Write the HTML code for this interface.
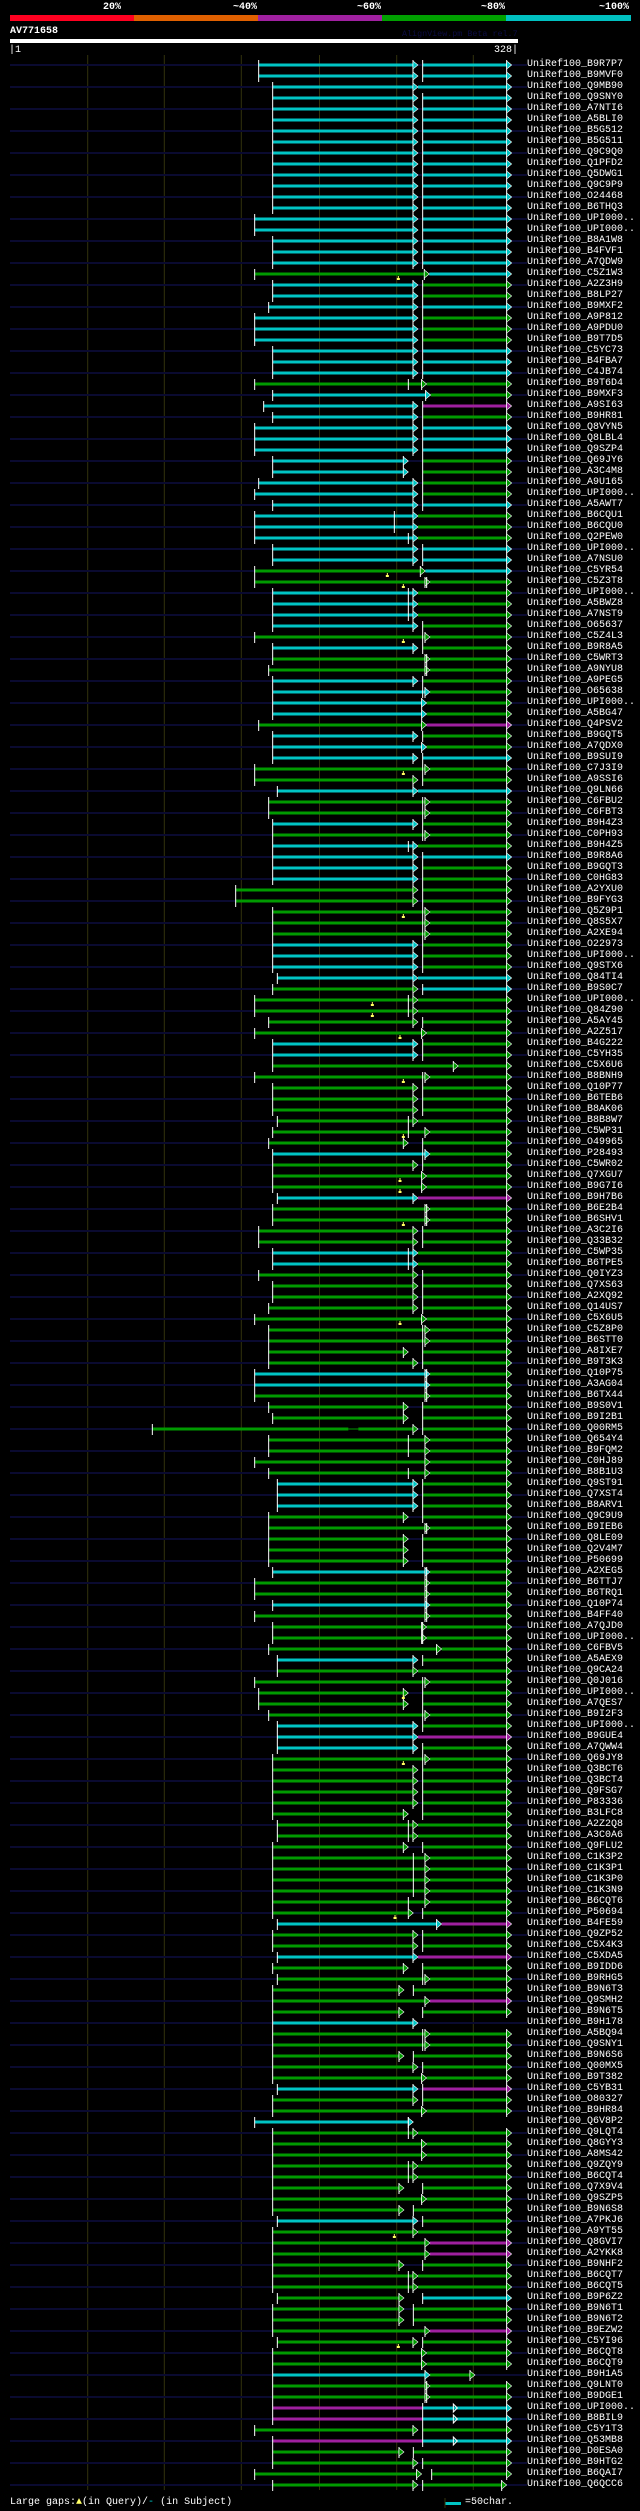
<!DOCTYPE html>
<html><head><meta charset="utf-8">
<style>
html,body{margin:0;padding:0;background:#000;}
body{width:640px;height:2511px;position:relative;overflow:hidden;font-family:"Liberation Mono",monospace;color:#fff;}
.t{position:absolute;font-size:10px;line-height:11px;white-space:pre;}
#lab{position:absolute;left:527px;top:59px;font-size:10px;line-height:11px;white-space:pre;margin:0;font-family:"Liberation Mono",monospace;color:#fff;}
svg{position:absolute;left:0;top:0;}
</style></head><body>
<svg id="g" width="640" height="2511"></svg>
<div class="t" style="left:103px;top:2px;font-weight:bold">20%</div>
<div class="t" style="left:233px;top:2px;font-weight:bold">~40%</div>
<div class="t" style="left:357px;top:2px;font-weight:bold">~60%</div>
<div class="t" style="left:481px;top:2px;font-weight:bold">~80%</div>
<div class="t" style="left:599px;top:2px;font-weight:bold">~100%</div>
<div class="t" style="left:10px;top:26px;font-weight:bold">AV771658</div>
<div class="t" style="left:402px;top:29px;font-size:8.4px;color:#0c0c44">AlignView.pm Beta rel.7</div>
<div class="t" style="left:9px;top:45px">|1</div>
<div class="t" style="left:494px;top:45px">328|</div>
<div class="t" style="left:10px;top:2497px">Large gaps:<span style="color:#ff6">&#9650;</span>(in Query)/<span style="color:#0cc">-</span> (in Subject)</div>
<div class="t" style="left:465px;top:2497px">=50char.</div>
<pre id="lab">UniRef100_B9R7P7
UniRef100_B9MVF0
UniRef100_Q9MB90
UniRef100_Q9SNY0
UniRef100_A7NTI6
UniRef100_A5BLI0
UniRef100_B5G512
UniRef100_B5G511
UniRef100_Q9C9Q0
UniRef100_Q1PFD2
UniRef100_Q5DWG1
UniRef100_Q9C9P9
UniRef100_O24468
UniRef100_B6THQ3
UniRef100_UPI000..
UniRef100_UPI000..
UniRef100_B8A1W8
UniRef100_B4FVF1
UniRef100_A7QDW9
UniRef100_C5Z1W3
UniRef100_A2Z3H9
UniRef100_B8LP27
UniRef100_B9MXF2
UniRef100_A9P812
UniRef100_A9PDU0
UniRef100_B9T7D5
UniRef100_C5YC73
UniRef100_B4FBA7
UniRef100_C4JB74
UniRef100_B9T6D4
UniRef100_B9MXF3
UniRef100_A9SI63
UniRef100_B9HR81
UniRef100_Q8VYN5
UniRef100_Q8LBL4
UniRef100_Q9SZP4
UniRef100_Q69JY6
UniRef100_A3C4M8
UniRef100_A9U165
UniRef100_UPI000..
UniRef100_A5AWT7
UniRef100_B6CQU1
UniRef100_B6CQU0
UniRef100_Q2PEW0
UniRef100_UPI000..
UniRef100_A7NSU0
UniRef100_C5YR54
UniRef100_C5Z3T8
UniRef100_UPI000..
UniRef100_A5BWZ8
UniRef100_A7NST9
UniRef100_O65637
UniRef100_C5Z4L3
UniRef100_B9R8A5
UniRef100_C5WRT3
UniRef100_A9NYU8
UniRef100_A9PEG5
UniRef100_O65638
UniRef100_UPI000..
UniRef100_A5BG47
UniRef100_Q4PSV2
UniRef100_B9GQT5
UniRef100_A7QDX0
UniRef100_B9SUI9
UniRef100_C7J3I9
UniRef100_A9SSI6
UniRef100_Q9LN66
UniRef100_C6FBU2
UniRef100_C6FBT3
UniRef100_B9H4Z3
UniRef100_C0PH93
UniRef100_B9H4Z5
UniRef100_B9R8A6
UniRef100_B9GQT3
UniRef100_C0HG83
UniRef100_A2YXU0
UniRef100_B9FYG3
UniRef100_Q5Z9P1
UniRef100_Q8S5X7
UniRef100_A2XE94
UniRef100_O22973
UniRef100_UPI000..
UniRef100_Q9STX6
UniRef100_Q84TI4
UniRef100_B9S0C7
UniRef100_UPI000..
UniRef100_Q84Z90
UniRef100_A5AY45
UniRef100_A2Z517
UniRef100_B4G222
UniRef100_C5YH35
UniRef100_C5X6U6
UniRef100_B8BNH9
UniRef100_Q10P77
UniRef100_B6TEB6
UniRef100_B8AK06
UniRef100_B8B8W7
UniRef100_C5WP31
UniRef100_O49965
UniRef100_P28493
UniRef100_C5WR02
UniRef100_Q7XGU7
UniRef100_B9G7I6
UniRef100_B9H7B6
UniRef100_B6E2B4
UniRef100_B6SHV1
UniRef100_A3C2I6
UniRef100_Q33B32
UniRef100_C5WP35
UniRef100_B6TPE5
UniRef100_Q0IYZ3
UniRef100_Q7XS63
UniRef100_A2XQ92
UniRef100_Q14US7
UniRef100_C5X6U5
UniRef100_C5Z8P0
UniRef100_B6STT0
UniRef100_A8IXE7
UniRef100_B9T3K3
UniRef100_Q10P75
UniRef100_A3AG04
UniRef100_B6TX44
UniRef100_B9S0V1
UniRef100_B9I2B1
UniRef100_Q00RM5
UniRef100_Q654Y4
UniRef100_B9FQM2
UniRef100_C0HJ89
UniRef100_B8B1U3
UniRef100_Q9ST91
UniRef100_Q7XST4
UniRef100_B8ARV1
UniRef100_Q9C9U9
UniRef100_B9IEB6
UniRef100_Q8LE09
UniRef100_Q2V4M7
UniRef100_P50699
UniRef100_A2XEG5
UniRef100_B6TTJ7
UniRef100_B6TRQ1
UniRef100_Q10P74
UniRef100_B4FF40
UniRef100_A7QJD0
UniRef100_UPI000..
UniRef100_C6FBV5
UniRef100_A5AEX9
UniRef100_Q9CA24
UniRef100_Q0J016
UniRef100_UPI000..
UniRef100_A7QES7
UniRef100_B9I2F3
UniRef100_UPI000..
UniRef100_B9GUE4
UniRef100_A7QWW4
UniRef100_Q69JY8
UniRef100_Q3BCT6
UniRef100_Q3BCT4
UniRef100_Q9FSG7
UniRef100_P83336
UniRef100_B3LFC8
UniRef100_A2Z2Q8
UniRef100_A3C0A6
UniRef100_Q9FLU2
UniRef100_C1K3P2
UniRef100_C1K3P1
UniRef100_C1K3P0
UniRef100_C1K3N9
UniRef100_B6CQT6
UniRef100_P50694
UniRef100_B4FE59
UniRef100_Q9ZP52
UniRef100_C5X4K3
UniRef100_C5XDA5
UniRef100_B9IDD6
UniRef100_B9RHG5
UniRef100_B9N6T3
UniRef100_Q9SMH2
UniRef100_B9N6T5
UniRef100_B9H178
UniRef100_A5BQ94
UniRef100_Q9SNY1
UniRef100_B9N6S6
UniRef100_Q00MX5
UniRef100_B9T382
UniRef100_C5YB31
UniRef100_O80327
UniRef100_B9HR84
UniRef100_Q6V8P2
UniRef100_Q9LQT4
UniRef100_Q8GYY3
UniRef100_A8MS42
UniRef100_Q9ZQY9
UniRef100_B6CQT4
UniRef100_Q7X9V4
UniRef100_Q9SZP5
UniRef100_B9N6S8
UniRef100_A7PKJ6
UniRef100_A9YT55
UniRef100_Q8GVI7
UniRef100_A2YKK8
UniRef100_B9NHF2
UniRef100_B6CQT7
UniRef100_B6CQT5
UniRef100_B9P6Z2
UniRef100_B9N6T1
UniRef100_B9N6T2
UniRef100_B9EZW2
UniRef100_C5YI96
UniRef100_B6CQT8
UniRef100_B6CQT9
UniRef100_B9H1A5
UniRef100_Q9LNT0
UniRef100_B9DGE1
UniRef100_UPI000..
UniRef100_B8BIL9
UniRef100_C5Y1T3
UniRef100_Q53MB8
UniRef100_D0ESA0
UniRef100_B9HTG2
UniRef100_B6QAI7
UniRef100_Q6QCC6</pre>
<script>
// row spec: start c1 tip gap c2 [end] ; extras: t=tick, m=mark  (displayed px from 3x zooms: x=140+p/3)
var R=`356c834.848c|356c834.848c|398c834.0c|398c834.848c|398c834.848c|398c834.848c|398c834.848c|398c834.848c|398c834.848c|398c834.848c|398c834.848c|398c834.848c|398c834.848c|398c834.848c|344c834.848c|344c834.848c|398c834.848c|398c834.848c|398c834.848c|344g868.0c m775|398c834.848g|398c834.848g|386c834.848c|344c834.848g|344c834.848g|344c834.848g|398c834.848c|398c834.848c|398c834.848c|344g860.0g t805|398c872.0g|371c834.848p|398c834.848g|344c834.848c|344c834.848c|344c834.848c|398c805.848g|398c805.848g|356c834.848g|344c834.848g|398c834.848c|344c834.0g t763|344c834.0g t763|344c834.0g t805|398c834.848c|398c834.848c|344g856.0c m742|344g870.0g t860 m790|398c834.0g t805|398c834.0g t805|398c834.0g t805|398c834.848g|344g870.0g t848 m790|398c834.848g|398g870.0g t860|386g870.0g t860|398c834.848g|398c870.0g t848|398c860.0g|398c860.0g|356g860.0p|398c834.848g|398c860.0g|398c834.848c|344g870.0g t848 m790|344g834.848g|412c834.0c|386g870.0g t848|386g870.0g t848|398c834.848g|398g870.0g t848|398c834.0g t805|398c834.848c|398c834.848g|398c834.848g|287g834.848g|287g834.848g|398g870.0g t848 m790|398g870.0g t848|398g870.0g t848|398c834.848g|398c834.848g|398c834.848g|412c834.0c|398g834.848c|344g834.0g t805 m697|344g834.0g t805 m697|386g834.848g|344g860.0g m780|398c834.848g|398c834.848g|398g955.0g|344g870.0g t848 m790|398g834.848g|398g834.848g|398g834.848g|412g834.0g t805|398g870.0g t805 m790|386g805.848g|398c870.0g t848|398g834.848g|398g860.0g m780|398g860.0g m780|412c834.0p|398g870.0g t860|398g870.0g t860 m790|356g834.848g|356g834.848g|398c834.0g t805|398c834.0g t805|356g834.848g|398g834.848g|398g834.848g|386g834.848g|344g860.0g m780|386g870.0g t848|386g870.0g t848|386g805.848g|386g834.848g|344c870.0g t860|344c870.0g t860|344g870.0g t860|386g805.848g|398g805.848g|37g834.848g|386g870.0g t805|386g870.0g t805|344g870.0g|386g870.0g t805|412c834.848g|412c834.848g|412c834.848g|386g805.848g|386g870.0g t860|386g805.848g|386g805.848g|386g805.848g|398c870.0g t860|344g870.0g t860|344g870.0g t860|398c870.0g t860|344g870.0g t860|398g860.0g t848|398g860.0g t848|386g905.0g|412c834.848g|412g834.0g|344g870.0g t848|356g805.848g m790|356g805.848g|386g870.0g t848|412c834.848g|412c834.0p|412c834.848g|398g870.0g t848 m790|398g834.848g|398g834.848g|398g834.848g|398g834.848g|398g805.848g|412g834.0g t805|412g834.0g t805|398g805.848g|398g870.0g t820|398g870.0g t820|398g870.0g t820|398g870.0g t820|398g870.0g t805|398g820.848g m765|412c905.0p|398g834.848g|398g834.848g|412c834.0p|398g805.848g|412g870.0g t848|398g792.820g|398g870.0p|398g792.848g|398c834.-1g|398g870.0g t848|398g870.0g t848|398g792.820g|398g834.848g|398g860.0g|412c834.848p|398g834.848g|398g860.0g|344c820.-1g t805|398g834.0g t805|398g860.0g|398g860.0g|398g834.0g t805|398g834.0g t805|398g792.848g|398g860.0g|398g792.820g|412c834.848g|398g834.0g m763|398g870.0p|398g870.0p|398g792.848g|398g834.0g t805|398g834.0g t805|412g792.848c|398g792.820g|398g792.820g|398g870.0p|412g834.848g m775|398g860.0g|398g860.0g|398c870.0g e1005|398g870.0g t860|398g870.0g t860|398p-2.848c a952|398p-2.848c a952|344g834.848g|398p-2.848c a952|398g792.820g|398g834.848g|344g845.875g|398g834.848g e1100`.split('|');
var C={c:'#00c4c4',g:'#009a00',p:'#a020a0'};
var X=function(p){return 140+p/3;};
var s='';
// header
s+='<rect x="10" y="15" width="124" height="6" fill="#ff0020"/><rect x="134" y="15" width="124" height="6" fill="#e06000"/><rect x="258" y="15" width="124" height="6" fill="#a020a0"/><rect x="382" y="15" width="124" height="6" fill="#00a000"/><rect x="506" y="15" width="125" height="6" fill="#00c0c0"/>';
s+='<rect x="10" y="39" width="508" height="4" fill="#fff"/>';
[87.7,164.3,241.3,319.5,396.7,473.3].forEach(function(x){s+='<rect x="'+(x-0.5)+'" y="55" width="1" height="2435" fill="#33330c"/>';});
function tick(x,y){return '<rect x="'+(x-0.5)+'" y="'+(y-5)+'" width="1" height="11" fill="#fff"/>';}
function tri(tx,y,col){return '<rect x="'+(tx-5.5)+'" y="'+(y-5)+'" width="1" height="11" fill="#fff"/><polygon points="'+(tx-5)+','+(y-4)+' '+tx+','+y+' '+(tx-5)+','+(y+4)+'" fill="'+col+'" stroke="#fff" stroke-width="0.6"/>';}
function seg(a,b,y,col){if(b<=a)return '';return '<rect x="'+a+'" y="'+(y-1.5)+'" width="'+(b-a)+'" height="3" fill="'+col+'"/>';}
R.forEach(function(r,i){
  var y=65+11*i;
  var parts=r.split(' ');var m=parts[0].match(/^(\d+)([cgp])(-?\d+)\.(-?\d+)([cgp])$/);
  if(i%2==0) s+='<rect x="10" y="'+(y-1)+'" width="517" height="2" fill="#0a0a30"/>';
  var st=X(+m[1]),c1=C[m[2]],tp=+m[3],gp=+m[4],c2=C[m[5]];
  var end=1115,arr=0;
  parts.slice(1).forEach(function(q){if(q[0]=='e')end=+q.slice(1);if(q[0]=='a')arr=+q.slice(1);});
  var et=X(end);
  if(tp==-2){ // purple then cyan, no arrow
    var gx=X(gp);
    s+=seg(st,gx,y,c1)+seg(gx,et-5,y,c2)+tick(st,y)+tick(gx,y)+tri(et,y,c2);
    if(arr){var ax=X(arr);s+='<polygon points="'+(ax-4)+','+(y-4)+' '+ax+','+y+' '+(ax-4)+','+(y+4)+'" fill="none" stroke="#fff" stroke-width="1"/>';}
  } else {
    var tx=X(tp);
    s+=seg(st,tx-5,y,c1);
    if(gp>=0){
      var gx=gp?X(gp):tx;
      s+=seg(gx,et-5,y,c2);
      if(gp) s+=tick(gx,y);
      s+=tri(et,y,c2);
    }
    s+=tick(st,y)+tri(tx,y,c1);
    if(i==124) s+='<rect x="'+X(625)+'" y="'+(y-1.5)+'" width="10" height="3" fill="#000"/><rect x="'+X(625)+'" y="'+(y-0.5)+'" width="10" height="1" fill="#009a00"/>';
  }
  parts.slice(1).forEach(function(q){
    var v=+q.slice(1);
    if(q[0]=='t') s+=tick(X(v),y);
    if(q[0]=='m'){var mx=X(v);s+='<rect x="'+(mx-0.5)+'" y="'+(y+2)+'" width="1" height="2" fill="#ffff60"/><rect x="'+(mx-1.5)+'" y="'+(y+4)+'" width="3" height="2" fill="#ffff60"/>';}
  });
});
// bottom legend bar
s+='<rect x="445" y="2502" width="16" height="3" fill="#00c4c4"/><rect x="444.5" y="2498" width="1" height="10" fill="#33330c"/>';
document.getElementById('g').innerHTML=s;
</script>
</body></html>
